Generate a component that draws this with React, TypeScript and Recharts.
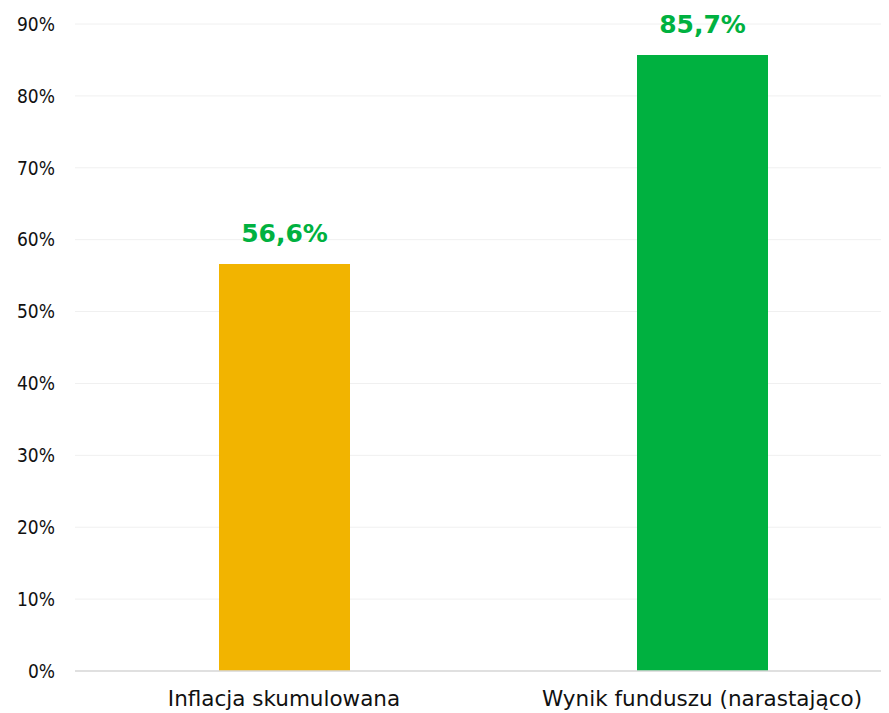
import { BarChart, Bar, XAxis, YAxis, CartesianGrid, Cell, LabelList } from "recharts";

const categories = ["Inflacja skumulowana", "Wynik funduszu (narastająco)"];
const values = [56.6, 85.7];
const barColors = ["#F2B400", "#00B140"];
const yTicks = [0, 10, 20, 30, 40, 50, 60, 70, 80, 90];

const data = categories.map((name, i) => ({ name, value: values[i] }));

const font = "'DejaVu Sans', sans-serif";
const condensed = "'DejaVu Sans Condensed', 'DejaVu Sans', sans-serif";

const formatPct = (v: any) => Number(v).toFixed(1).replace(".", ",") + "%";

function App() {
  return (
    <div style={{ width: 889, height: 713, overflow: "hidden", marginLeft: -8, marginTop: -8, background: "#fff" }}>
      <BarChart
        width={911}
        height={713}
        data={data}
        margin={{ top: 24, right: 0, left: 0, bottom: 0 }}
      >
        <CartesianGrid vertical={false} stroke="#f0f0f0" />
        <XAxis
          dataKey="name"
          height={42}
          tickLine={false}
          tickSize={0}
          tickMargin={20}
          axisLine={{ stroke: "#d9d9d9", strokeWidth: 1.5 }}
          tick={{ fill: "#111", fontSize: 21.5, fontFamily: font }}
        />
        <YAxis
          domain={[0, 90]}
          ticks={yTicks}
          width={75}
          axisLine={false}
          tickLine={false}
          tickSize={0}
          tickMargin={20}
          tickFormatter={(v) => v + "%"}
          tick={{ fill: "#111", fontSize: 19, fontFamily: condensed, fontStretch: "condensed" }}
        />
        <Bar dataKey="value" barSize={131} isAnimationActive={false}>
          {data.map((d, i) => (
            <Cell key={d.name} fill={barColors[i]} />
          ))}
          <LabelList
            dataKey="value"
            position="top"
            offset={22}
            formatter={formatPct}
            style={{ fill: "#00B140", fontSize: 25, fontWeight: "bold", fontFamily: font }}
          />
        </Bar>
      </BarChart>
    </div>
  );
}

export default App;
